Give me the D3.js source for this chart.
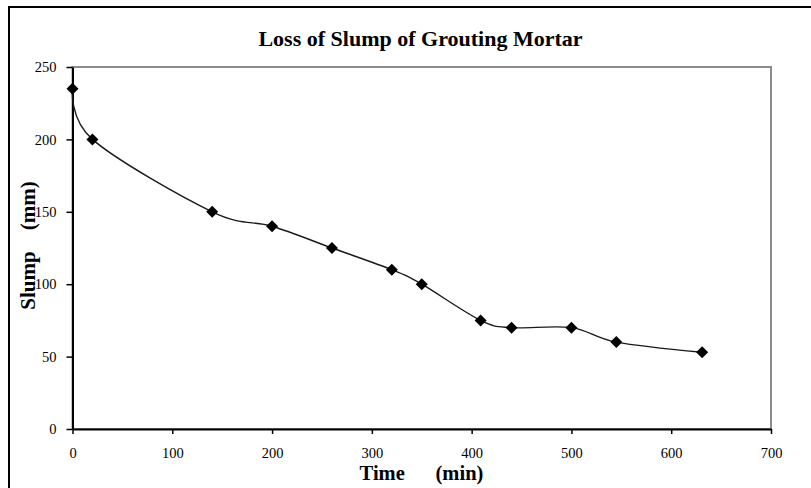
<!DOCTYPE html>
<html>
<head>
<meta charset="utf-8">
<script src="https://cdn.jsdelivr.net/npm/d3@7/dist/d3.min.js"></script>
<style>
  html, body { margin: 0; padding: 0; background: #fff; }
  svg { display: block; }
  text { font-family: "Liberation Serif", "Times New Roman", serif; fill: #000; }
</style>
</head>
<body>
<svg id="chart" width="811" height="488"></svg>
<script>
const timeValues = [0, 20, 140, 200, 260, 320, 350, 409, 440, 500, 545, 631];
const slumpValues = [235, 200, 150, 140, 125, 110, 100, 75, 70, 70, 60, 53];
const xTicks = [0, 100, 200, 300, 400, 500, 600, 700];
const yTicks = [0, 50, 100, 150, 200, 250];
const chartTitle = "Loss of Slump of Grouting Mortar";
const xTitle = "Time      (min)";
const yTitle = "Slump    (mm)";

const data = timeValues.map((t, i) => ({ t, s: slumpValues[i] }));

const svg = d3.select("#chart");

// outer chart border (extends beyond visible area right/bottom)
svg.append("rect")
  .attr("x", 9).attr("y", 7)
  .attr("width", 830).attr("height", 520)
  .attr("fill", "#fff")
  .attr("stroke", "#000")
  .attr("stroke-width", 2);

const x = d3.scaleLinear().domain([0, 700]).range([72.5, 771]);
const y = d3.scaleLinear().domain([0, 250]).range([429, 67]);

// plot area frame (gray top/right)
svg.append("rect")
  .attr("x", x(0)).attr("y", y(250))
  .attr("width", x(700) - x(0)).attr("height", y(0) - y(250))
  .attr("fill", "none")
  .attr("stroke", "#8c8c8c")
  .attr("stroke-width", 2);

// axes
const xAxis = svg.append("g")
  .attr("transform", `translate(0,${y(0)})`)
  .call(d3.axisBottom(x).tickValues(xTicks).tickSize(5).tickSizeOuter(0).tickPadding(13.5).tickFormat(d3.format("d")));
const yAxis = svg.append("g")
  .attr("transform", `translate(${x(0)},0)`)
  .call(d3.axisLeft(y).tickValues(yTicks).tickSize(6).tickSizeOuter(0).tickPadding(10).tickFormat(d3.format("d")));

[xAxis, yAxis].forEach(g => {
  g.select(".domain").attr("stroke", "#000").attr("stroke-width", 2);
  g.selectAll(".tick line").attr("stroke", "#000").attr("stroke-width", 1.5);
  g.selectAll(".tick text")
    .attr("font-family", "'Liberation Serif', 'Times New Roman', serif")
    .attr("font-size", 14.5)
    .attr("fill", "#000");
});

// smoothed line (Excel-like Catmull-Rom)
const line = d3.line()
  .x(d => x(d.t))
  .y(d => y(d.s))
  .curve(d3.curveCardinal.tension(0));

svg.append("path")
  .datum(data)
  .attr("d", line)
  .attr("fill", "none")
  .attr("stroke", "#1a1a1a")
  .attr("stroke-width", 1.4);

// diamond markers
svg.selectAll(".pt")
  .data(data)
  .join("path")
  .attr("class", "pt")
  .attr("d", d3.symbol().type(d3.symbolSquare).size(72))
  .attr("transform", d => `translate(${x(d.t)},${y(d.s)}) rotate(45)`)
  .attr("fill", "#000");

// titles
svg.append("text")
  .attr("x", 420.5).attr("y", 46)
  .attr("text-anchor", "middle")
  .attr("font-size", 22)
  .attr("font-weight", "bold")
  .text(chartTitle);

svg.append("text")
  .attr("x", 421.5).attr("y", 479.5)
  .attr("text-anchor", "middle")
  .attr("font-size", 20.5)
  .attr("font-weight", "bold")
  .style("white-space", "pre")
  .text(xTitle);

svg.append("text")
  .attr("transform", "translate(35,245.5) rotate(-90)")
  .attr("text-anchor", "middle")
  .attr("font-size", 21)
  .attr("font-weight", "bold")
  .style("white-space", "pre")
  .text(yTitle);
</script>
</body>
</html>
